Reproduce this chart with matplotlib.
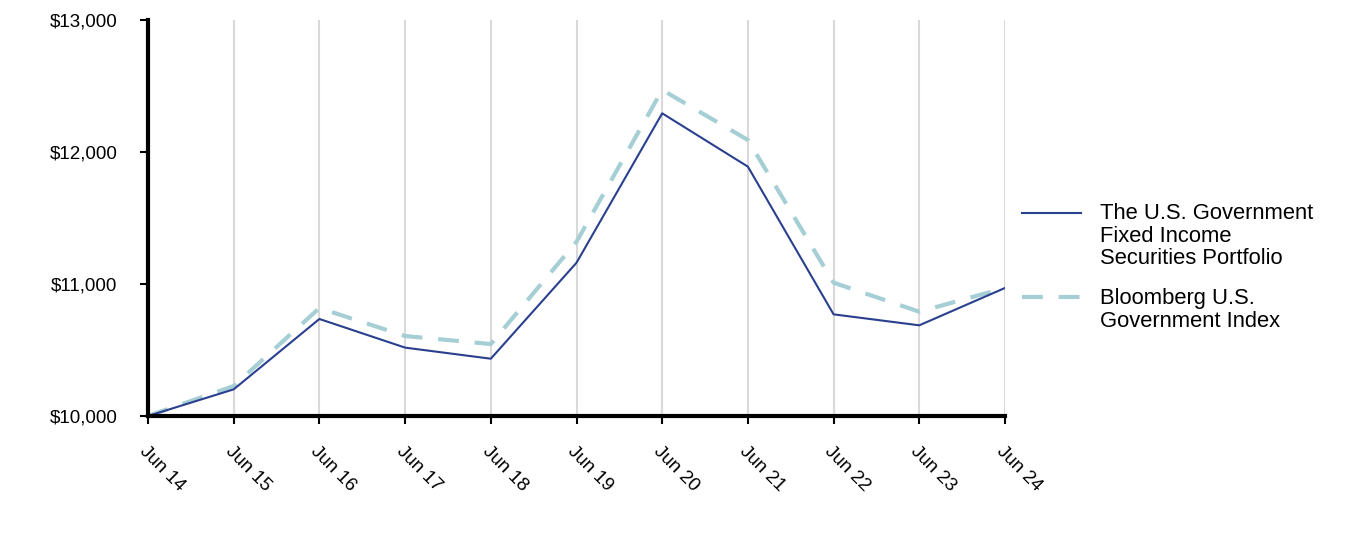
import matplotlib
matplotlib.use("Agg")
import matplotlib.pyplot as plt
from matplotlib.lines import Line2D
from matplotlib.ticker import FuncFormatter
import matplotlib.transforms as mtransforms

plt.rcParams['font.family'] = ['Liberation Sans', 'DejaVu Sans']

categories = ["Jun 14", "Jun 15", "Jun 16", "Jun 17", "Jun 18", "Jun 19",
              "Jun 20", "Jun 21", "Jun 22", "Jun 23", "Jun 24"]
portfolio = [10000, 10202, 10735, 10518, 10434, 11161, 12293, 11889, 10770, 10687, 10970]
index_vals = [10000, 10227, 10818, 10606, 10545, 11320, 12470, 12091, 11010, 10790, 10970]
series_names = ["The U.S. Government\nFixed Income\nSecurities Portfolio",
                "Bloomberg U.S.\nGovernment Index"]
y_ticks = [10000, 11000, 12000, 13000]

solid_color = "#2a3f8e"
dash_color = "#a6cfd5"
dash_pattern = (5.0, 3.8)

W, H = 1368, 540
fig = plt.figure(figsize=(W / 100, H / 100), dpi=100)
ax = fig.add_axes([148 / W, 1 - 416 / H, (1005 - 148) / W, (416 - 20) / H])

x = list(range(len(categories)))
ax.plot(x, index_vals, color=dash_color, lw=3.0, dashes=dash_pattern, zorder=3)
ax.plot(x, portfolio, color=solid_color, lw=1.5, zorder=4)

ax.set_xlim(0, len(categories) - 1)
ax.set_ylim(10000, 13000)
ax.set_xticks(x)
ax.set_xticklabels(categories, rotation=-45, ha='left', va='top',
                   rotation_mode='anchor', fontsize=13.5)
offset = mtransforms.ScaledTranslation(4 / 100, 0, fig.dpi_scale_trans)
for lab in ax.get_xticklabels():
    lab.set_transform(lab.get_transform() + offset)
ax.set_yticks(y_ticks)
ax.yaxis.set_major_formatter(FuncFormatter(lambda v, p: f"${v:,.0f}"))
ax.tick_params(axis='y', labelsize=13.5, length=6, width=1.5, pad=16, direction='out')
ax.tick_params(axis='x', length=6, width=1.5, pad=13.5, direction='out')
ax.grid(axis='x', color='#d9d9d9', lw=1.5, zorder=0)
ax.grid(axis='y', visible=False)
for s in ['top', 'right']:
    ax.spines[s].set_visible(False)
for s in ['left', 'bottom']:
    ax.spines[s].set_linewidth(3.0)
    ax.spines[s].set_zorder(5)

# legend (handles aligned with first text line)
leg_font = 15.8
fig.add_artist(Line2D([1022 / W, 1081 / W], [1 - 213 / H] * 2, transform=fig.transFigure,
                      color=solid_color, lw=1.5))
fig.add_artist(Line2D([1022 / W, 1081 / W], [1 - 297 / H] * 2, transform=fig.transFigure,
                      color=dash_color, lw=3.0, dashes=dash_pattern))
fig.text(1100 / W, 1 - 203 / H, series_names[0], fontsize=leg_font, va='top', ha='left',
         linespacing=1.1)
fig.text(1100 / W, 1 - 288 / H, series_names[1], fontsize=leg_font, va='top', ha='left',
         linespacing=1.1)

fig.savefig("out.png", dpi=100)
